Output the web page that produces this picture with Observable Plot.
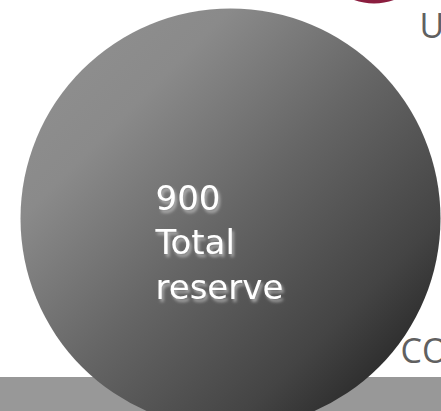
<!DOCTYPE html>
<html><head><meta charset="utf-8">
<script src="https://cdn.jsdelivr.net/npm/d3@7"></script>
<script src="https://cdn.jsdelivr.net/npm/@observablehq/plot@0.6"></script>
<style>
html,body{margin:0;padding:0;background:#fff;overflow:hidden;}
#wrap{position:relative;width:441px;height:411px;overflow:hidden;}
#band{position:absolute;left:0;top:377px;width:441px;height:34px;background:#989898;}
#chart{position:absolute;left:0;top:0;}
</style></head><body>
<div id="wrap"><div id="band"></div><div id="chart"></div></div>
<script>
// data
const values = [900];
const labels = ["Total reserve"];
const topLabels = ["U"];
const bottomLabels = ["CO"];
const accent = [0];

const bubbleText = values.map((v, i) => `${v}\n${labels[i].split(" ").join("\n")}`);

const plot = Plot.plot({
  width: 441,
  height: 411,
  marginLeft: 19,
  marginTop: 25,
  marginRight: 0,
  marginBottom: 0,
  style: {background: "transparent", overflow: "visible"},
  r: {domain: [0, 900], range: [0, 210]},
  marks: [
    Plot.dot(accent, {frameAnchor: "top-left", dx: 354.5, dy: -80.5, r: 58.5, fill: "#8b1e3f"}),
    Plot.dot(values, {frameAnchor: "middle", r: d => d, fill: "url(#bubbleGrad)"}),
    Plot.text(bubbleText, {
      frameAnchor: "middle", text: d => d, textAnchor: "start", lineAnchor: "bottom",
      lineHeight: 1.3, dx: -75, dy: 80, fontSize: 34, fill: "#ffffff",
      fontFamily: "DejaVu Sans"
    }),
    Plot.text(topLabels, {
      frameAnchor: "top-right", text: d => d, textAnchor: "start", lineAnchor: "bottom",
      dx: -22, dy: 12, fontSize: 34, fill: "#606060", fontFamily: "Open Sans"
    }),
    Plot.text(bottomLabels, {
      frameAnchor: "bottom-right", text: d => d, textAnchor: "start", lineAnchor: "bottom",
      dx: -41, dy: -49, fontSize: 34, fill: "#606060", fontFamily: "Open Sans"
    })
  ]
});

const svg = d3.select(plot);
const defs = svg.insert("defs", ":first-child");
const g = defs.append("linearGradient").attr("id", "bubbleGrad")
  .attr("x1", 0).attr("y1", 0).attr("x2", 1).attr("y2", 1);
[[0, "#929292"], [0.25, "#8a8a8a"], [0.5, "#656565"], [0.75, "#444444"], [0.87, "#2c2c2c"], [1, "#1e1e1e"]]
  .forEach(([o, c]) => g.append("stop").attr("offset", o).attr("stop-color", c));

const f = defs.append("filter").attr("id", "textShadow")
  .attr("x", "-20%").attr("y", "-20%").attr("width", "140%").attr("height", "140%");
f.append("feGaussianBlur").attr("in", "SourceAlpha").attr("stdDeviation", 1.4).attr("result", "b");
f.append("feOffset").attr("in", "b").attr("dx", 2).attr("dy", 3).attr("result", "o");
f.append("feFlood").attr("flood-color", "#d8d8d8").attr("flood-opacity", 0.6).attr("result", "c");
f.append("feComposite").attr("in", "c").attr("in2", "o").attr("operator", "in").attr("result", "s");
const m = f.append("feMerge");
m.append("feMergeNode").attr("in", "s");
m.append("feMergeNode").attr("in", "SourceGraphic");

svg.selectAll("g[aria-label='text']").filter((d, i) => i === 0).attr("filter", "url(#textShadow)");

document.getElementById("chart").appendChild(plot);
</script>
</body></html>
